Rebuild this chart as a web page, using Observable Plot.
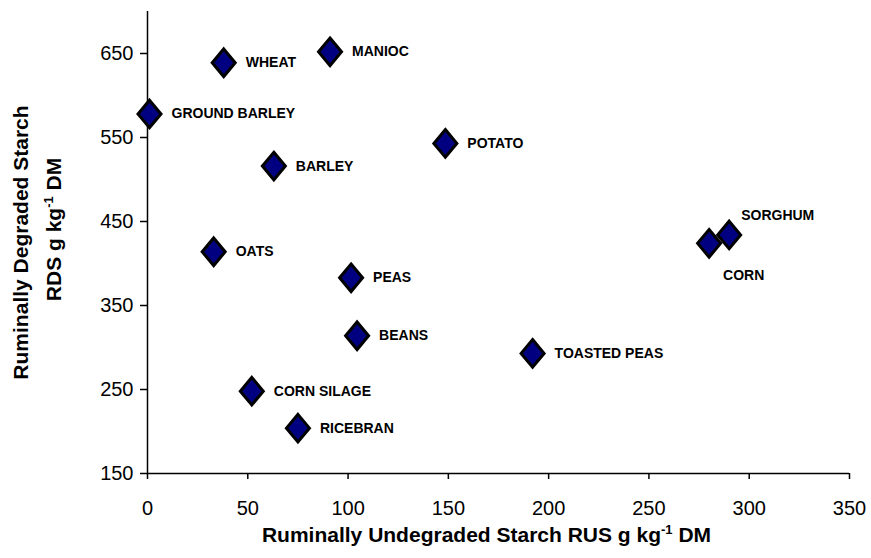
<!DOCTYPE html>
<html><head><meta charset="utf-8">
<script src="https://cdn.jsdelivr.net/npm/d3@7"></script>
<script src="https://cdn.jsdelivr.net/npm/@observablehq/plot@0.6"></script>
<style>
body{margin:0;background:#fff}
</style></head><body><div id="chart"></div>
<script>
// ---- data ----
const feeds = ["GROUND BARLEY","WHEAT","MANIOC","BARLEY","POTATO","OATS","PEAS","BEANS","CORN SILAGE","RICEBRAN","TOASTED PEAS","CORN","SORGHUM"];
const rus   = [1, 38, 91, 63, 148.5, 33, 101.5, 104.5, 52, 75, 192, 280, 290];
const rds   = [578, 639, 652, 516, 543, 414, 383, 314, 248, 204, 293, 424, 434];
const xTicks = [0, 50, 100, 150, 200, 250, 300, 350];
const yTicks = [150, 250, 350, 450, 550, 650];
const xTitle = "Ruminally Undegraded Starch RUS g kg⁻¹ DM";
const yTitle1 = "Ruminally Degraded Starch";
const yTitle2 = "RDS g kg⁻¹ DM";

const data = feeds.map((name, i) => ({name, rus: rus[i], rds: rds[i]}));
const above = ["SORGHUM"], below = ["CORN"];

const labelFont = (() => {
  const c = document.createElement("canvas").getContext("2d");
  c.font = "bold 100px 'Liberation Sans Narrow'";
  const a = c.measureText("GROUND BARLEY").width;
  c.font = "bold 100px 'Liberation Sans'";
  const b = c.measureText("GROUND BARLEY").width;
  return a < 0.9 * b ? {family: "'Liberation Sans Narrow'", size: 16} : {family: "'Liberation Sans', Arial, sans-serif", size: 14};
})();

const diamond = {
  draw(ctx, size) {
    const r = Math.sqrt(size / Math.PI), w = r, h = r * 1.2;
    ctx.moveTo(0, -h); ctx.lineTo(w, 0); ctx.lineTo(0, h); ctx.lineTo(-w, 0); ctx.closePath();
  }
};

const lbl = {x: "rus", y: "rds", text: "name", textAnchor: "start", fontWeight: "bold",
             fontSize: labelFont.size, fontFamily: labelFont.family, fill: "black"};

const chart = Plot.plot({
  width: 871, height: 558,
  marginLeft: 147, marginRight: 22, marginTop: 11, marginBottom: 85,
  style: {fontFamily: "'Liberation Sans', Arial, sans-serif", fontSize: "20px", color: "black", background: "white"},
  x: {domain: [0, 350]},
  y: {domain: [150, 700]},
  marks: [
    Plot.axisX(xTicks, {tickSize: 6, tickPadding: 21, fontSize: 20, strokeWidth: 1.5, label: null}),
    Plot.axisY(yTicks, {tickSize: 7, tickPadding: 7, fontSize: 20, strokeWidth: 1.5, label: null}),
    Plot.ruleX([0], {stroke: "black", strokeWidth: 1.5}),
    Plot.ruleY([150], {stroke: "black", strokeWidth: 1.5}),
    Plot.dot(data, {x: "rus", y: "rds", symbol: diamond, r: 11.5, fill: "#000080", stroke: "black", strokeWidth: 3}),
    Plot.text(data.filter(d => !above.includes(d.name) && !below.includes(d.name)), {...lbl, dx: 22}),
    Plot.text(data.filter(d => above.includes(d.name)), {...lbl, dx: 12, dy: -19}),
    Plot.text(data.filter(d => below.includes(d.name)), {...lbl, dx: 14, dy: 32}),
    Plot.text([xTitle], {text: d => d, frameAnchor: "bottom", dx: -12, dy: 68, fontSize: 21, fontWeight: "bold", fill: "black"}),
    Plot.text([yTitle1], {text: d => d, frameAnchor: "left", textAnchor: "middle", rotate: -90, dx: -126, dy: 0, fontSize: 21, fontWeight: "bold", fill: "black"}),
    Plot.text([yTitle2], {text: d => d, frameAnchor: "left", textAnchor: "middle", rotate: -90, dx: -93.5, dy: -13, fontSize: 21, fontWeight: "bold", fill: "black"})
  ]
});

// superscript "-1" as a real tspan
d3.select(chart).selectAll("text").each(function() {
  const t = this.textContent;
  if (!t.includes("⁻¹")) return;
  const [pre, post] = t.split("⁻¹");
  const sel = d3.select(this);
  sel.text(null);
  sel.append("tspan").text(pre);
  sel.append("tspan").attr("dy", "-8").attr("font-size", "13").text("-1");
  sel.append("tspan").attr("dy", "8").text(post);
});

document.getElementById("chart").append(chart);
</script>
</body></html>
